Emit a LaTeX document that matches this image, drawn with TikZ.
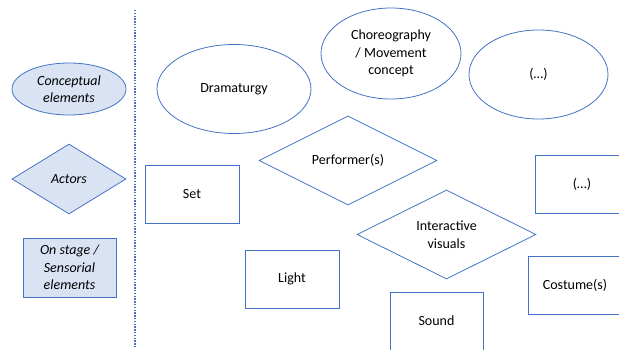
\documentclass[tikz,border=0pt]{standalone}
\usepackage{fontspec}
\setmainfont{Carlito}
\usetikzlibrary{shapes.geometric}
\definecolor{edgeblue}{HTML}{4472C4}
\definecolor{fillblue}{HTML}{DAE3F3}

\begin{document}
\begin{tikzpicture}[x=1pt,y=-1pt,font=\fontsize{14}{17.5}\selectfont]
  \tikzstyle{elem}=[draw=edgeblue,line width=0.8pt,ellipse,inner sep=0pt,align=center]
  \tikzstyle{actor}=[draw=edgeblue,line width=0.8pt,diamond,aspect=2,inner sep=0pt,align=center]
  \tikzstyle{stagebox}=[draw=edgeblue,line width=0.8pt,rectangle,inner sep=0pt,align=center,minimum width=94pt,minimum height=58pt]
  \tikzstyle{legend}=[fill=fillblue,font=\fontsize{14}{17.5}\selectfont\itshape]
  \clip (0,0) rectangle (619,350);

  % legend
  \node[elem,legend,minimum width=114pt,minimum height=52pt] (lconcept) at (69,89) {Conceptual\\elements};
  \node[actor,legend,minimum width=114pt,minimum height=70pt] (lactor) at (69,179) {Actors};
  \node[stagebox,legend,minimum width=93pt,minimum height=59pt] (lstage) at (69.5,267.5) {On stage /\\Sensorial\\elements};
  \coordinate (septop) at (135,10);
  \coordinate (sepbot) at (135,348);
  \draw[edgeblue,line width=1.4pt,dash pattern=on 1.4pt off 1.4pt] (septop) -- (sepbot);

  % conceptual elements
  \node[elem,minimum width=154pt,minimum height=89pt] (dramaturgy) at (234,89) {Dramaturgy};
  \node[elem,minimum width=140pt,minimum height=91pt] (choreo) at (391,53.5) {Choreography\\/ Movement\\concept};
  \node[elem,minimum width=139pt,minimum height=89pt] (concetc) at (538.5,74.5) {(\dots)};

  % actors
  \node[actor,minimum width=178pt,minimum height=89pt] (performer) at (348,160.5) {Performer(s)};
  \node[actor,minimum width=179pt,minimum height=89pt] (visuals) at (446.5,234.5) {Interactive\\visuals};

  % on stage / sensorial elements
  \node[stagebox] (set) at (192,194) {Set};
  \node[stagebox] (light) at (292,279) {Light};
  \node[stagebox,minimum width=93pt] (sound) at (436.5,321) {Sound};
  \node[stagebox] (costume) at (575,285) {Costume(s)};
  \node[stagebox] (stageetc) at (582,184) {(\dots)};
\end{tikzpicture}
\end{document}
